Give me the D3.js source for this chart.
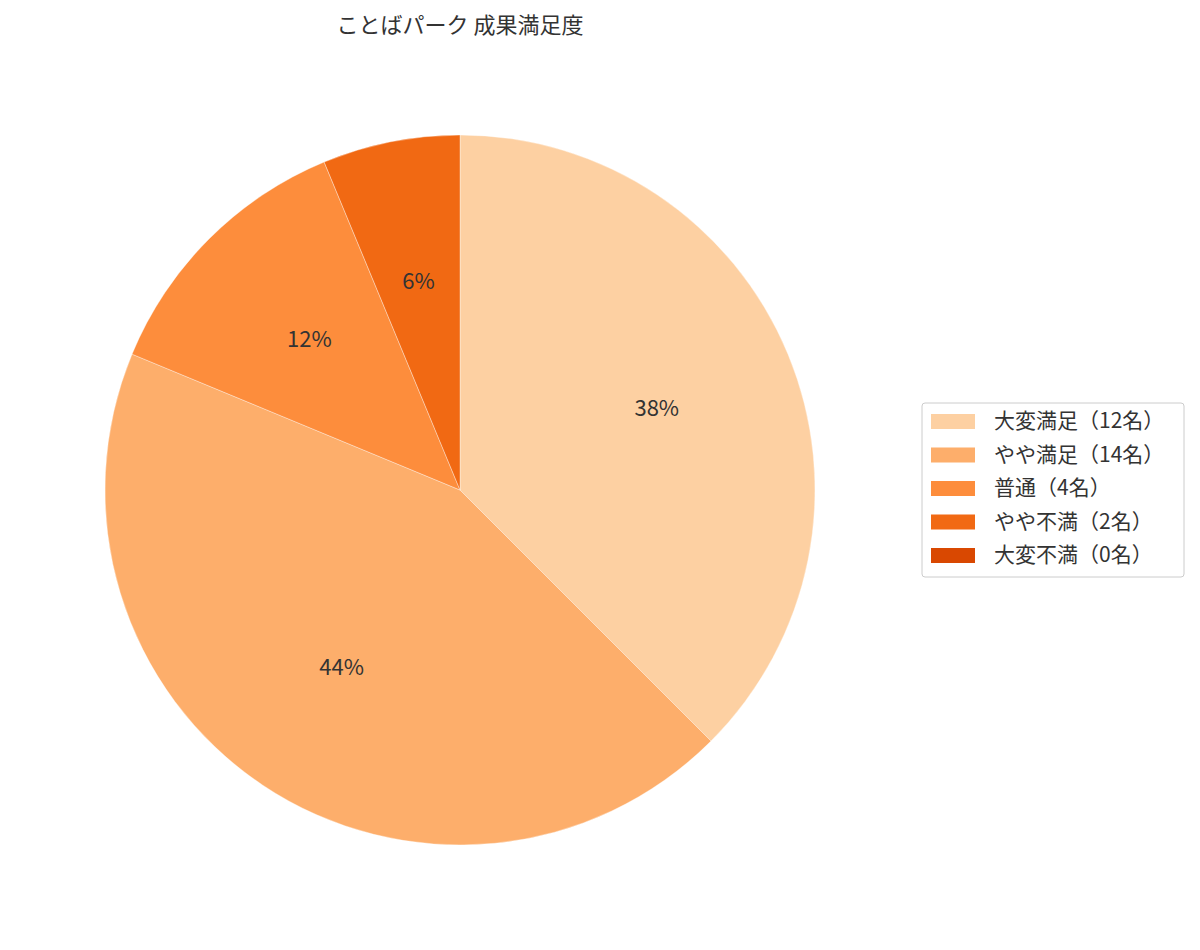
<!DOCTYPE html>
<html>
<head>
<meta charset="utf-8">
<script src="https://cdn.jsdelivr.net/npm/d3@7"></script>
<style>
  body{ margin:0; background:#fff; }
  text{ font-family:"Noto Sans CJK JP","Noto Sans",sans-serif; fill:#333; }
</style>
</head>
<body>
<svg id="svg" width="1200" height="950"></svg>
<script>
const categories = ["大変満足","やや満足","普通","やや不満","大変不満"];
const counts = [12, 14, 4, 2, 0];
const colors = ["#fdd0a2","#fdae6b","#fd8d3c","#f16913","#d94801"];
const title = "ことばパーク 成果満足度";

const svg = d3.select("#svg");
const cx = 460, cy = 490, radius = 355;

svg.append("text")
  .attr("x", cx).attr("y", 33)
  .attr("text-anchor","middle")
  .style("font-size","22px")
  .text(title);

const total = d3.sum(counts);
const pie = d3.pie().sort(null).value(d=>d.value);
const arcs = pie(counts.map((v,i)=>({name:categories[i], value:v, color:colors[i]})));

const arc = d3.arc().innerRadius(0).outerRadius(radius);
const labelArc = d3.arc().innerRadius(radius*0.6).outerRadius(radius*0.6);

const g = svg.append("g").attr("transform",`translate(${cx},${cy})`);

g.selectAll("path")
  .data(arcs.filter(d=>d.data.value>0))
  .enter().append("path")
  .attr("d", arc)
  .attr("fill", d=>d.data.color)
  .attr("stroke","#fff")
  .attr("stroke-opacity",0.6)
  .attr("stroke-width",0.6);

// python-style round half to even
function fmtPct(v){
  const p = v/total*100;
  const f = Math.floor(p), diff = p-f;
  let r;
  if(Math.abs(diff-0.5)<1e-9) r = (f%2===0)? f : f+1;
  else r = Math.round(p);
  return r+"%";
}

g.selectAll("text.lbl")
  .data(arcs.filter(d=>d.data.value>0))
  .enter().append("text")
  .attr("class","lbl")
  .attr("transform", d=>`translate(${labelArc.centroid(d)})`)
  .attr("text-anchor","middle")
  .attr("dy","0.35em")
  .style("font-size","22px")
  .text(d=>fmtPct(d.data.value));

// Legend
const lg = svg.append("g").attr("transform","translate(922,403)");
lg.append("rect")
  .attr("x",0).attr("y",0).attr("width",262).attr("height",174)
  .attr("rx",3)
  .attr("fill","#fff").attr("stroke","#ccc").attr("stroke-width",1);

const rowH = 33.5;
const items = lg.selectAll("g.item")
  .data(categories.map((c,i)=>({label:`${c}（${counts[i]}名）`, color:colors[i]})))
  .enter().append("g")
  .attr("class","item")
  .attr("transform",(d,i)=>`translate(0,${18 + i*rowH})`);

items.append("rect")
  .attr("x",9).attr("y",-7).attr("width",44).attr("height",15)
  .attr("fill",d=>d.color);

items.append("text")
  .attr("x",72).attr("y",0)
  .attr("dy","0.35em")
  .style("font-size","21px")
  .text(d=>d.label);
</script>
</body>
</html>
